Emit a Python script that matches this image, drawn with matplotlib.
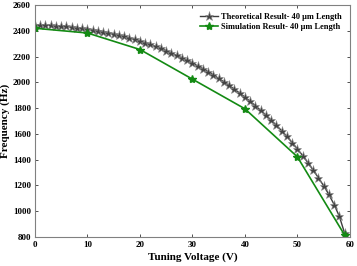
import matplotlib
matplotlib.use('Agg')
import matplotlib.pyplot as plt
import numpy as np

# данные
v_theory = list(range(0, 60))
f_theory = [2445, 2445, 2444, 2442, 2440, 2437, 2434, 2430, 2425, 2420,
            2415, 2408, 2401, 2393, 2385, 2376, 2366, 2356, 2345, 2334,
            2322, 2308, 2294, 2279, 2263, 2246, 2228, 2210, 2190, 2170,
            2150, 2128, 2105, 2082, 2057, 2031, 2004, 1976, 1947, 1917,
            1886, 1853, 1819, 1783, 1746, 1707, 1667, 1625, 1580, 1533,
            1484, 1432, 1377, 1320, 1260, 1198, 1130, 1052, 960, 830]
v_sim = [0, 10, 20, 30, 40, 50, 59]
f_sim = [2420, 2383, 2255, 2025, 1795, 1422, 815]

plt.rcParams['font.family'] = ['Liberation Serif', 'DejaVu Serif']
plt.rcParams['font.weight'] = 'bold'

fig = plt.figure(figsize=(3.57, 2.66), dpi=100)
ax = fig.add_axes([0.098, 0.109, 0.882, 0.872])

ax.plot(v_theory, f_theory, color='#3c3c3c', lw=1.0, marker='*', ms=6.5,
        markerfacecolor='#444444', markeredgecolor='#8c8c8c', markeredgewidth=0.4,
        label='Theoretical Result- 40 \u03bcm Length')
ax.plot(v_sim, f_sim, color='#138a13', lw=1.2, marker='*', ms=6,
        markerfacecolor='#138a13', markeredgecolor='#138a13',
        label='Simulation Result- 40 \u03bcm Length')

ax.set_xlim(0, 60)
ax.set_ylim(800, 2600)
ax.set_xticks(np.arange(0, 61, 10))
ax.set_yticks(np.arange(800, 2601, 200))
ax.tick_params(direction='in', top=True, right=True, length=2.5, width=0.6,
               labelsize=6.5, colors='#333333', pad=3)
for s in ax.spines.values():
    s.set_color('#808080')
    s.set_linewidth(0.8)
for lab in ax.get_xticklabels() + ax.get_yticklabels():
    lab.set_fontweight('bold')
    lab.set_color('black')

ax.set_xlabel('Tuning Voltage (V)', fontsize=8, fontweight='bold', labelpad=2)
ax.set_ylabel('Frequency (Hz)', fontsize=8, fontweight='bold', labelpad=2)

ax.legend(loc='upper right', frameon=False, handlelength=2.2,
          borderaxespad=0.6, labelspacing=0.2, handletextpad=0.3,
          prop={'weight': 'bold', 'size': 6})

fig.savefig('out.png', dpi=100)
